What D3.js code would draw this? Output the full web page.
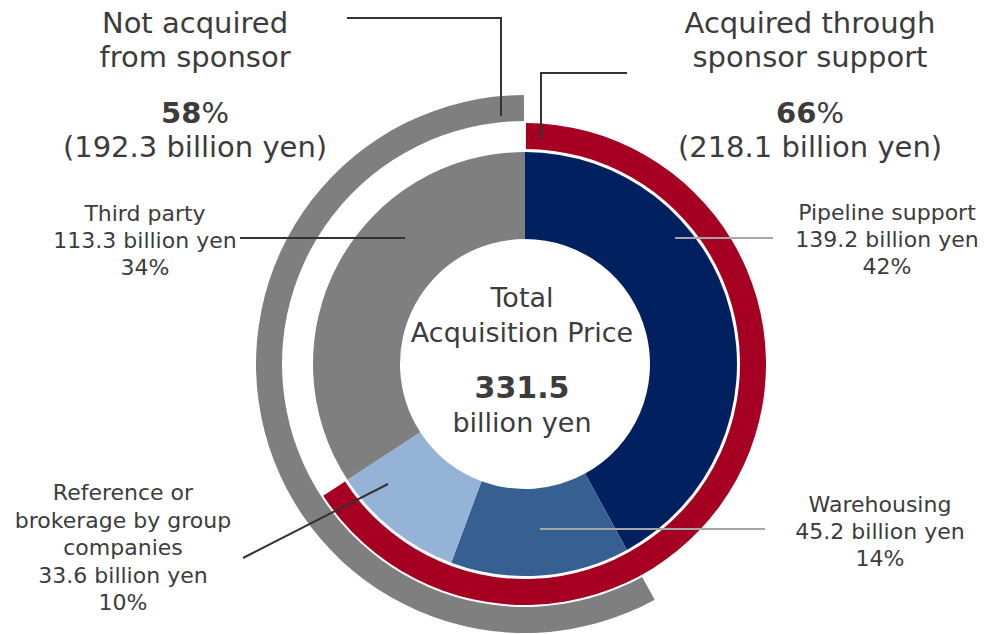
<!DOCTYPE html>
<html>
<head>
<meta charset="utf-8">
<script src="https://cdn.jsdelivr.net/npm/d3@7/dist/d3.min.js"></script>
<style>
  html, body { margin: 0; padding: 0; background: #fff; }
  svg { display: block; font-family: "DejaVu Sans", Verdana, sans-serif; }
</style>
</head>
<body>
<svg id="chart" width="984" height="634"></svg>
<script>
// Acquisition breakdown (billion yen)
const categories = ["Pipeline support", "Warehousing", "Reference or brokerage by group companies", "Third party"];
const values = [139.2, 45.2, 33.6, 113.3];
const shares = ["42%", "14%", "10%", "34%"];
const sliceColors = ["#002060", "#376092", "#95B3D7", "#7F7F7F"];

// Outer grouping arcs
const totalPrice = 331.5;
const sponsorAcquired = 218.1;   // Pipeline + Warehousing + Reference
const sponsorShare = "66";
const notSponsor = 192.3;        // Third party + Reference + Warehousing
const notSponsorShare = "58";

const svg = d3.select("#chart");
const cx = 525, cy = 364;
const textColor = "#3c3c3c";

const g = svg.append("g").attr("transform", `translate(${cx},${cy})`);

// Inner donut
const pie = d3.pie().sort(null).value(d => d.value).startAngle(0).endAngle(2 * Math.PI);
const slices = pie(categories.map((c, i) => ({ name: c, value: values[i], color: sliceColors[i] })));
const innerArc = d3.arc().innerRadius(125).outerRadius(212);
g.selectAll("path.slice")
  .data(slices)
  .join("path")
  .attr("class", "slice")
  .attr("d", innerArc)
  .attr("fill", d => d.data.color);

// Grouping arcs, angle scale on total price
const angle = d3.scaleLinear().domain([0, totalPrice]).range([0, 2 * Math.PI]);
const pad = 0.004;
g.append("path")
  .attr("d", d3.arc().innerRadius(215).outerRadius(241)
    .startAngle(angle(0) + pad).endAngle(angle(sponsorAcquired))())
  .attr("fill", "#A50021");
g.append("path")
  .attr("d", d3.arc().innerRadius(243).outerRadius(269)
    .startAngle(-angle(notSponsor)).endAngle(angle(0) - pad)())
  .attr("fill", "#7F7F7F");

// Center label
const center = g.append("g").attr("fill", textColor).attr("text-anchor", "middle");
center.append("text").attr("x", -3).attr("y", -57).attr("font-size", 27).text("Total");
center.append("text").attr("x", -3).attr("y", -22).attr("font-size", 27).text("Acquisition Price");
center.append("text").attr("x", -3).attr("y", 34).attr("font-size", 30).attr("font-weight", "bold").text(d3.format(".1f")(totalPrice));
center.append("text").attr("x", -3).attr("y", 68).attr("font-size", 27).text("billion yen");

// Leader lines
function line(points, color) {
  svg.append("path")
    .attr("d", d3.line()(points))
    .attr("fill", "none")
    .attr("stroke", color)
    .attr("stroke-width", 2);
}
const dark = "#333333", light = "#A6A6A6";
line([[347, 18], [501, 18], [501, 116]], dark);
line([[627, 73], [541, 73], [541, 140]], dark);
line([[240, 238], [405, 238]], dark);
line([[675, 238], [773, 238]], light);
line([[540, 529], [765, 529]], light);
line([[243, 558], [388, 484]], dark);

// Group labels
function groupLabel(x, title1, title2, pct, amount) {
  const t = svg.append("g").attr("fill", textColor).attr("text-anchor", "middle").attr("font-size", 29);
  t.append("text").attr("x", x).attr("y", 33).text(title1);
  t.append("text").attr("x", x).attr("y", 67).text(title2);
  const p = t.append("text").attr("x", x).attr("y", 123);
  p.append("tspan").attr("font-weight", "bold").text(pct);
  p.append("tspan").text("%");
  t.append("text").attr("x", x).attr("y", 157).text(`(${d3.format(".1f")(amount)} billion yen)`);
}
groupLabel(195, "Not acquired", "from sponsor", notSponsorShare, notSponsor);
groupLabel(810, "Acquired through", "sponsor support", sponsorShare, sponsorAcquired);

// Slice labels
function sliceLabel(x, y0, lines, step) {
  const t = svg.append("g").attr("fill", textColor).attr("text-anchor", "middle").attr("font-size", 22);
  lines.forEach((s, i) => t.append("text").attr("x", x).attr("y", y0 + i * step).text(s));
}
const amt = v => `${d3.format(".1f")(v)} billion yen`;
sliceLabel(887, 220, ["Pipeline support", amt(values[0]), shares[0]], 27);
sliceLabel(880, 512, ["Warehousing", amt(values[1]), shares[1]], 27);
sliceLabel(123, 500, ["Reference or", "brokerage by group", "companies", amt(values[2]), shares[2]], 27.5);
sliceLabel(145, 221, ["Third party", amt(values[3]), shares[3]], 27);
</script>
</body>
</html>
